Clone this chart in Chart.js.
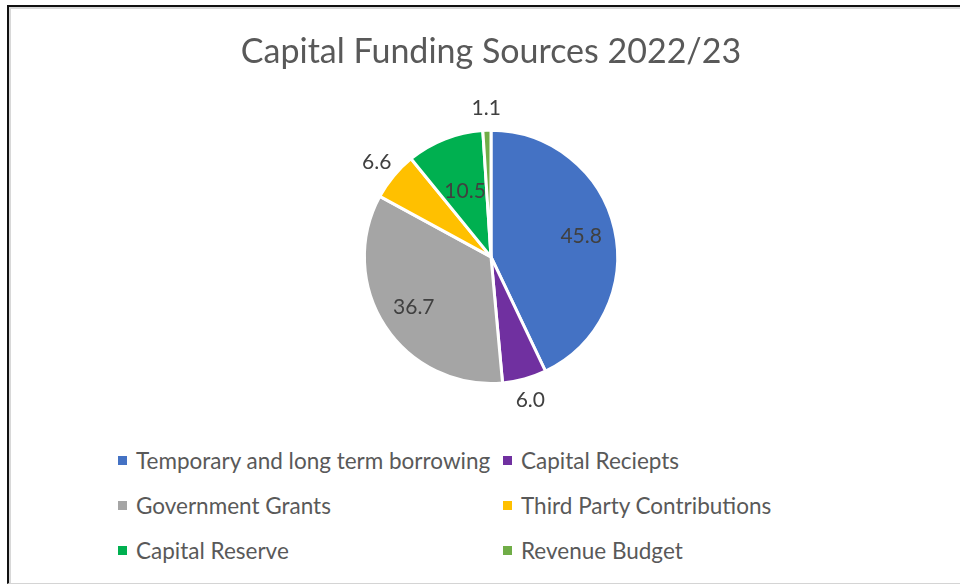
<!DOCTYPE html>
<html>
<head>
<meta charset="utf-8">
<script src="https://cdn.jsdelivr.net/npm/chart.js@4.4.0/dist/chart.umd.min.js"></script>
<style>
  html, body { margin: 0; padding: 0; background: #fff; overflow: hidden; }
  body { width: 960px; height: 586px; position: relative; font-family: Lato, sans-serif; }
  #frame {
    position: absolute; left: 7px; top: 5px; width: 1000px; height: 576px;
    border-top: 2px solid #111; border-left: 2px solid #111; border-bottom: 1px solid #d4d4d4;
    box-shadow: inset 2px 2px 0 #d8d8d8;
  }
  #box { position: absolute; left: 0; top: 0; width: 982px; height: 430px; }
  #legend {
    position: absolute; left: 118px; top: 446px;
    display: grid; grid-template-columns: 385px auto; row-gap: 16px;
    font-size: 22.5px; color: #595959;
  }
  .item { display: flex; align-items: center; height: 29px; white-space: nowrap; }
  .sw { width: 9px; height: 9px; margin-right: 9px; }
</style>
</head>
<body>
<div id="frame"></div>
<div id="box"><canvas id="pie"></canvas></div>
<div id="legend"></div>
<script>
// 資金の内訳 2022/23
const categories = [
    'Temporary and long term borrowing',
    'Capital Reciepts',
    'Government Grants',
    'Third Party Contributions',
    'Capital Reserve',
    'Revenue Budget'
];
const values = [45.8, 6.0, 36.7, 6.6, 10.5, 1.1];
const colors = ['#4472C4', '#7030A0', '#A5A5A5', '#FFC000', '#00B050', '#70AD47'];

// ラベルを描く（小さい扇形は外側に）
const sliceLabels = {
    id: 'sliceLabels',
    afterDatasetsDraw(chart) {
        const ctx = chart.ctx;
        const meta = chart.getDatasetMeta(0);
        const data = chart.data.datasets[0].data;
        const total = data.reduce((a, b) => a + b, 0);
        ctx.save();
        ctx.font = '21px Lato';
        ctx.fillStyle = '#404040';
        ctx.textAlign = 'center';
        ctx.textBaseline = 'middle';
        meta.data.forEach((arc, i) => {
            const p = arc.getProps(['x', 'y', 'startAngle', 'endAngle', 'outerRadius'], true);
            const mid = (p.startAngle + p.endAngle) / 2;
            const share = data[i] / total;
            let r;
            if (share < 0.08) r = p.outerRadius + 22;
            else if (share < 0.15) r = p.outerRadius * 0.56;
            else r = p.outerRadius * 0.73;
            ctx.fillText(data[i].toFixed(1), p.x + Math.cos(mid) * r, p.y + Math.sin(mid) * r);
        });
        ctx.restore();
    }
};

const chart = new Chart(document.getElementById('pie'), {
    type: 'pie',
    data: {
        labels: categories,
        datasets: [{
            data: values,
            backgroundColor: colors,
            borderColor: '#ffffff',
            borderWidth: 3
        }]
    },
    options: {
        responsive: true,
        maintainAspectRatio: false,
        animation: false,
        layout: { padding: { bottom: 45 } },
        plugins: {
            legend: { display: false },
            tooltip: { enabled: false },
            title: {
                display: true,
                text: 'Capital Funding Sources 2022/23',
                color: '#595959',
                font: { family: 'Lato', size: 34, weight: 'normal' },
                padding: { top: 32, bottom: 56 }
            }
        }
    },
    plugins: [sliceLabels]
});

// 凡例（2列）
const legend = document.getElementById('legend');
categories.forEach((c, i) => {
    const item = document.createElement('div');
    item.className = 'item';
    const sw = document.createElement('span');
    sw.className = 'sw';
    sw.style.background = colors[i];
    const t = document.createElement('span');
    t.textContent = c;
    item.appendChild(sw);
    item.appendChild(t);
    legend.appendChild(item);
});
</script>
</body>
</html>
